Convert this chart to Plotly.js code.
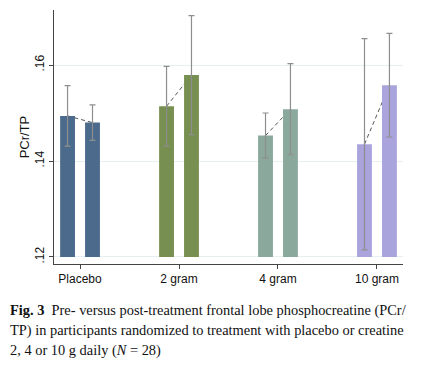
<!DOCTYPE html>
<html><head><meta charset="utf-8">
<script src="https://cdn.plot.ly/plotly-3.0.1.min.js"></script>
<style>body{margin:0;background:#fff}#c{width:421px;height:365px}</style>
</head><body><div id="c"></div>
<script>
const groups = ["Placebo", "2 gram", "4 gram", "10 gram"];
const preVals = [0.1494, 0.1514, 0.1453, 0.1435];
const preErr = [0.0063, 0.0083, 0.0047, 0.0220];
const postVals = [0.1480, 0.1579, 0.1508, 0.1558];
const postErr = [0.0037, 0.0124, 0.0095, 0.0108];
const colors = ["#4b6a8c", "#778f50", "#8aa89b", "#a9a4dc"];
const yTicks = [0.12, 0.14, 0.16];
const yTickText = [".12", ".14", ".16"];
const baseVal = 0.12;

const off = 0.126, bw = 0.15;
const idx = groups.map((g, i) => i);
const traces = [];
// dashed connectors (drawn beneath bars)
const lx = [], ly = [];
idx.forEach(i => { lx.push(i - off, i + off, null); ly.push(preVals[i], postVals[i], null); });
traces.push({type: "scatter", mode: "lines", x: lx, y: ly, xaxis: "x", yaxis: "y",
  line: {color: "#555", width: 1, dash: "4px,3px"}, hoverinfo: "skip", showlegend: false});
[[preVals, preErr, -off], [postVals, postErr, off]].forEach(([vals, errs, o]) => {
  traces.push({type: "bar", xaxis: "x2", yaxis: "y",
    x: idx.map(i => i + o), y: vals.map(v => v - baseVal), base: baseVal, width: bw,
    marker: {color: colors, line: {width: 0}},
    error_y: {type: "data", array: errs, visible: true, color: "#8e8e8e", thickness: 1.2, width: 3},
    showlegend: false, hoverinfo: "skip"});
});
const xr = [-0.263, 3.263];
const capFont = {family: "Liberation Serif, Times New Roman, serif", size: 14.4, color: "#111"};
const layout = {
  width: 421, height: 365, margin: {l: 54, r: 18, t: 10, b: 101},
  paper_bgcolor: "#fff", plot_bgcolor: "#fff", showlegend: false,
  font: {family: "Liberation Sans, Arial, sans-serif", size: 12, color: "#111"},
  xaxis: {range: xr, tickvals: idx, ticktext: groups, ticks: "outside", ticklen: 4,
    tickcolor: "#444", showline: true, linecolor: "#444", linewidth: 1, showgrid: false,
    zeroline: false, tickfont: {size: 12}, fixedrange: true},
  xaxis2: {range: xr, overlaying: "x", visible: false, fixedrange: true},
  yaxis: {range: [0.11854, 0.17146], tickvals: yTicks, ticktext: yTickText, tickangle: -90,
    ticks: "outside", ticklen: 4, tickcolor: "#444", showline: true, linecolor: "#444",
    linewidth: 1, showgrid: true, gridcolor: "#e6f0f1", gridwidth: 1, zeroline: false,
    tickfont: {size: 12}, title: {text: "PCr/TP", font: {size: 13}, standoff: 0}},
  annotations: [
    {text: "<b>Fig. 3</b>  Pre- versus post-treatment frontal lobe phosphocreatine (PCr/",
     xref: "paper", yref: "paper", x: -0.1318, y: -0.1839, xanchor: "left", yanchor: "middle",
     showarrow: false, font: capFont},
    {text: "TP) in participants randomized to treatment with placebo or creatine",
     xref: "paper", yref: "paper", x: -0.1318, y: -0.2626, xanchor: "left", yanchor: "middle",
     showarrow: false, font: capFont},
    {text: "2, 4 or 10 g daily (<i>N</i> = 28)",
     xref: "paper", yref: "paper", x: -0.1318, y: -0.3413, xanchor: "left", yanchor: "middle",
     showarrow: false, font: capFont}
  ]
};
Plotly.newPlot("c", traces, layout, {staticPlot: true, displayModeBar: false});
</script></body></html>
